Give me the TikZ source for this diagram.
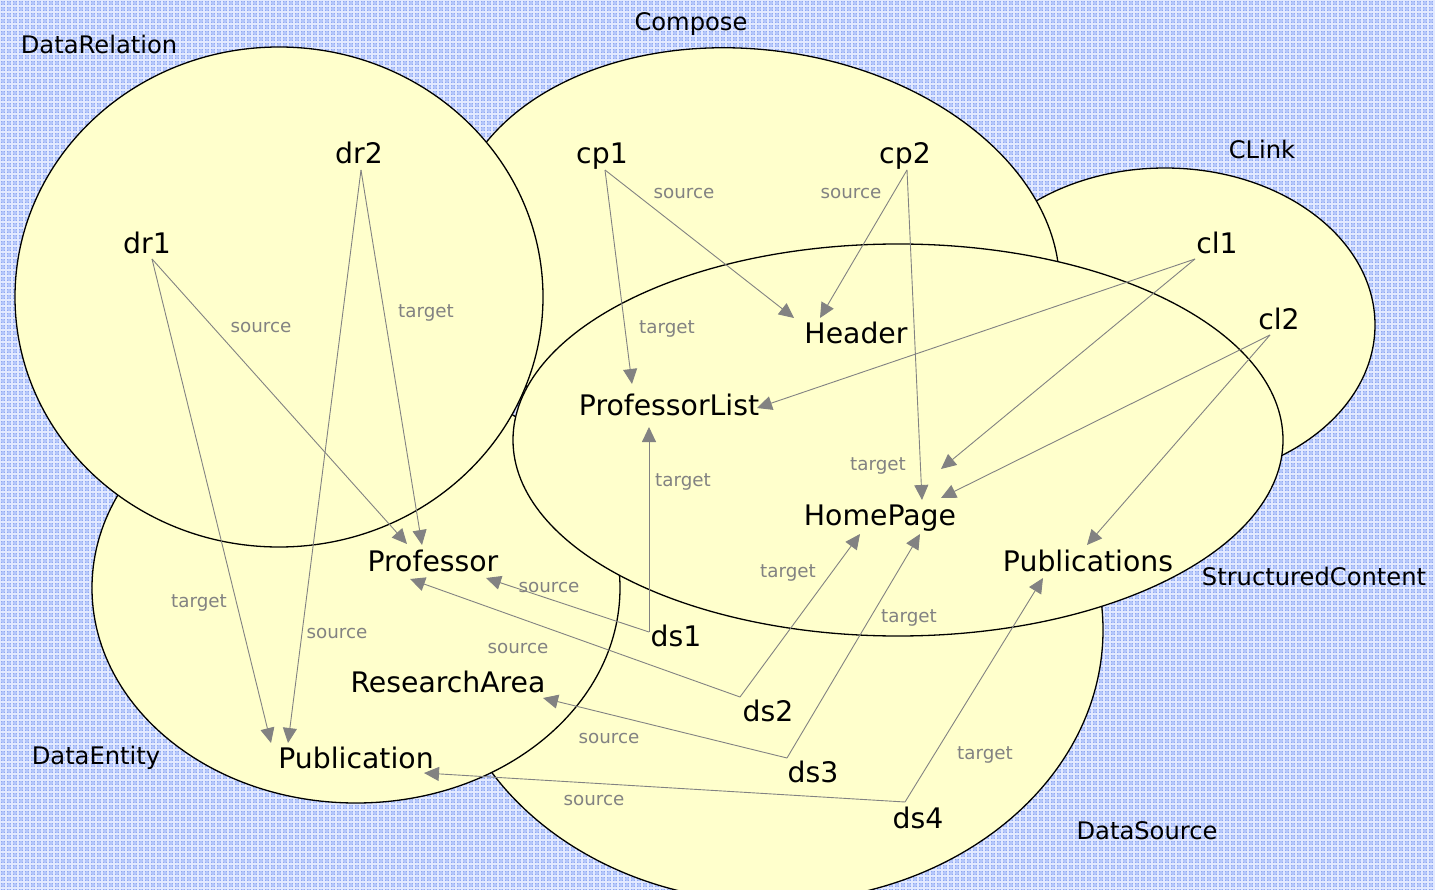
\documentclass[tikz,border=0pt]{standalone}
\usepackage{fontspec}
\setmainfont{DejaVu Sans}
\usetikzlibrary{arrows.meta}
\definecolor{bgblue}{RGB}{142,166,240}
\definecolor{gridlight}{RGB}{226,233,255}
\definecolor{gridmid}{RGB}{180,198,250}
\definecolor{setfill}{RGB}{255,255,204}
\definecolor{edgegray}{RGB}{130,130,130}
\begin{document}
\begin{tikzpicture}[x=1pt,y=-1pt,
  setshape/.style={draw=black, line width=1.3pt, fill=setfill},
  setname/.style={font=\fontsize{24.2}{26}\selectfont, anchor=base, inner sep=0pt},
  elem/.style={font=\fontsize{28.3}{31}\selectfont, anchor=base, inner sep=0pt},
  role/.style={font=\fontsize{18.3}{20}\selectfont, text=edgegray, anchor=base, inner sep=0pt},
  link/.style={draw=edgegray, line width=0.9pt, -{Triangle[length=15pt,width=14pt]}},
]
\useasboundingbox (0,0) rectangle (1435,890);

% checked blue backdrop
\fill[bgblue] (0,0) rectangle (1435,890);
\foreach \i in {0,6,...,1435} \draw[gridmid, line width=2pt] (\i+3,0) -- (\i+3,890);
\foreach \j in {0,6,...,890} \draw[gridmid, line width=2pt] (0,\j+3) -- (1435,\j+3);
\foreach \i in {0,6,...,1435} \draw[gridlight, line width=1.1pt] (\i,0) -- (\i,890);
\foreach \j in {0,6,...,890} \draw[gridlight, line width=1.1pt] (0,\j) -- (1435,\j);

% the sets, back to front
\draw[setshape] (1165,325) ellipse [x radius=210, y radius=157];
\draw[setshape, rotate around={-8:(755,262)}] (755,262) ellipse [x radius=306, y radius=212];
\draw[setshape] (773,630) ellipse [x radius=330, y radius=272];
\draw[setshape] (356,588) ellipse [x radius=264, y radius=215];
\draw[setshape] (898,440) ellipse [x radius=385, y radius=196];
\draw[setshape] (279,297) ellipse [x radius=264, y radius=250];

% set names
\node[setname] (nDataRelation) at (99,54) {DataRelation};
\node[setname] (nCompose) at (691,31) {Compose};
\node[setname] (nCLink) at (1262,159) {CLink};
\node[setname] (nStructured) at (1314,585) {StructuredContent};
\node[setname] (nDataEntity) at (96,764) {DataEntity};
\node[setname] (nDataSource) at (1147,839) {DataSource};

% elements
\node[elem] (dr1) at (147,254) {dr1};
\node[elem] (dr2) at (359,164) {dr2};
\node[elem] (cp1) at (602,164) {cp1};
\node[elem] (cp2) at (905,164) {cp2};
\node[elem] (cl1) at (1217,254) {cl1};
\node[elem] (cl2) at (1279,330) {cl2};
\node[elem] (header) at (856,344) {Header};
\node[elem] (plist) at (669,416) {ProfessorList};
\node[elem] (home) at (880,525) {HomePage};
\node[elem] (pubs) at (1088,571) {Publications};
\node[elem] (prof) at (433,571) {Professor};
\node[elem] (area) at (448,692) {ResearchArea};
\node[elem] (pub) at (356,768) {Publication};
\node[elem] (ds1) at (676,646) {ds1};
\node[elem] (ds2) at (768,721) {ds2};
\node[elem] (ds3) at (813,782) {ds3};
\node[elem] (ds4) at (918,828) {ds4};

% connector ports
\coordinate (dr1-o) at (152,259);
\coordinate (dr2-o) at (361,170);
\coordinate (cp1-o) at (605,170);
\coordinate (cp2-o) at (907,170);
\coordinate (cl1-o) at (1195,259);
\coordinate (cl2-o) at (1270,335);
\coordinate (ds1-o) at (649,632);
\coordinate (ds2-o) at (740,697);
\coordinate (ds3-o) at (787,758);
\coordinate (ds4-o) at (905,802);

\coordinate (pub-a) at (271,743);
\coordinate (pub-b) at (288,743);
\coordinate (pub-c) at (424,773);
\coordinate (prof-a) at (407,544);
\coordinate (prof-b) at (422,545);
\coordinate (prof-c) at (486,578);
\coordinate (prof-d) at (410,579);
\coordinate (plist-a) at (632,384);
\coordinate (plist-b) at (757,408);
\coordinate (plist-c) at (649,427);
\coordinate (header-a) at (794,318);
\coordinate (header-b) at (820,318);
\coordinate (home-a) at (922,500);
\coordinate (home-b) at (941,469);
\coordinate (home-c) at (941,498);
\coordinate (home-d) at (860,534);
\coordinate (home-e) at (920,534);
\coordinate (pubs-a) at (1087,545);
\coordinate (pubs-b) at (1043,578);
\coordinate (area-a) at (543,698);

% connectors
\draw[link] (dr1-o) -- (pub-a);
\draw[link] (dr1-o) -- (prof-a);
\draw[link] (dr2-o) -- (pub-b);
\draw[link] (dr2-o) -- (prof-b);
\draw[link] (cp1-o) -- (plist-a);
\draw[link] (cp1-o) -- (header-a);
\draw[link] (cp2-o) -- (header-b);
\draw[link] (cp2-o) -- (home-a);
\draw[link] (cl1-o) -- (plist-b);
\draw[link] (cl1-o) -- (home-b);
\draw[link] (cl2-o) -- (home-c);
\draw[link] (cl2-o) -- (pubs-a);
\draw[link] (ds1-o) -- (plist-c);
\draw[link] (ds1-o) -- (prof-c);
\draw[link] (ds2-o) -- (prof-d);
\draw[link] (ds2-o) -- (home-d);
\draw[link] (ds3-o) -- (area-a);
\draw[link] (ds3-o) -- (home-e);
\draw[link] (ds4-o) -- (pub-c);
\draw[link] (ds4-o) -- (pubs-b);

% role labels
\node[role] (r1) at (261,333) {source};
\node[role] (r2) at (426,318) {target};
\node[role] (r3) at (199,607) {target};
\node[role] (r4) at (337,638) {source};
\node[role] (r5) at (667,334) {target};
\node[role] (r6) at (684,199) {source};
\node[role] (r7) at (851,199) {source};
\node[role] (r8) at (878,470) {target};
\node[role] (r9) at (683,486) {target};
\node[role] (r10) at (549,592) {source};
\node[role] (r11) at (518,653) {source};
\node[role] (r12) at (788,577) {target};
\node[role] (r13) at (609,743) {source};
\node[role] (r14) at (909,622) {target};
\node[role] (r15) at (594,805) {source};
\node[role] (r16) at (985,759) {target};
\end{tikzpicture}
\end{document}
